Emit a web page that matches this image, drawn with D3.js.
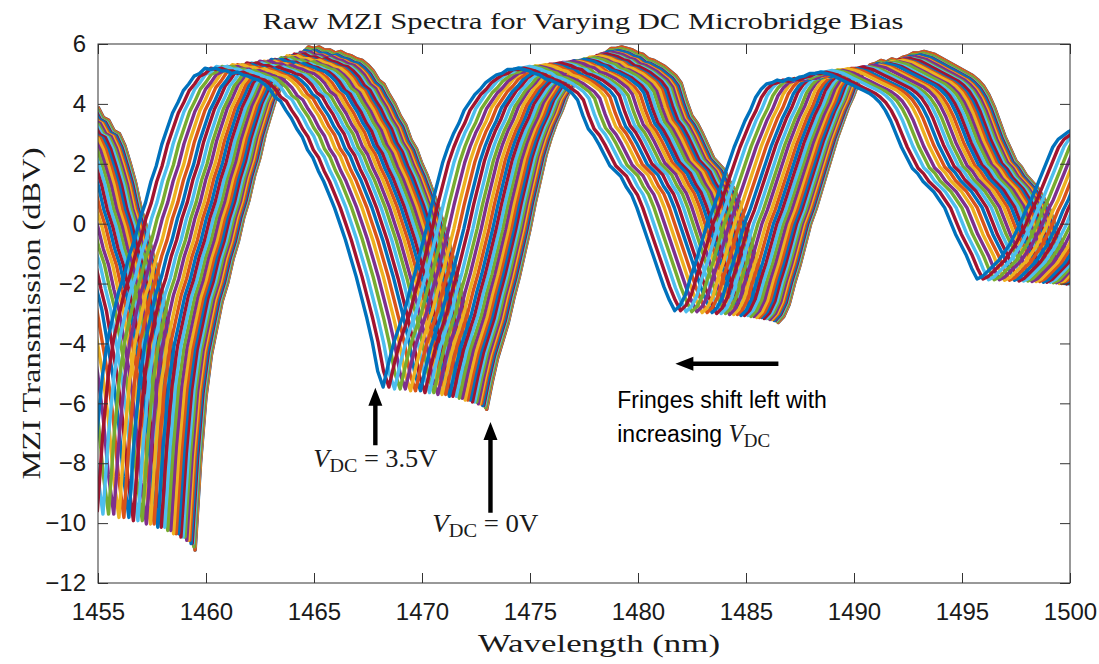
<!DOCTYPE html>
<html>
<head>
<meta charset="utf-8">
<script src="https://cdn.jsdelivr.net/npm/d3@7"></script>
<style>
  body { margin: 0; background: #fff; }
  .tick text { font-family: 'Liberation Sans', Arial, sans-serif; font-size: 24px; fill: #1a1a1a; }
  .tick line { stroke: #333; }
  .serif { font-family: 'Liberation Serif', 'Times New Roman', serif; fill: #1a1a1a; }
  .note { font-family: 'Liberation Sans', Arial, sans-serif; font-size: 23px; fill: #000; }
</style>
</head>
<body>
<script>
// 0 V spectrum, one value every 0.25 nm from 1455 to 1505 (dBV)
const baseStart = 1455
const baseStep = 0.25
const baseDb = [
  3.9, 3.55, 3.45, 3.1, 3.0, 2.6, 2.0, 1.35, 0.5, -0.1,
  -0.9, -1.5, -2.4, -3.2, -4.4, -5.6, -7.2, -9.4, -10.9, -8.0,
  -5.8, -4.4, -3.5, -2.6, -2.0, -1.2, -0.6, 0.2, 0.8, 1.6,
  2.2, 3.0, 3.6, 4.2, 4.6, 5.05, 5.3, 5.6, 5.7, 5.9,
  5.85, 5.9, 5.8, 5.8, 5.7, 5.75, 5.65, 5.6, 5.5, 5.45,
  5.3, 5.1, 4.8, 4.65, 4.3, 4.0, 3.6, 3.3, 2.8, 2.5,
  2.0, 1.6, 1.1, 0.6, 0.0, -0.6, -1.3, -2.0, -2.8, -3.6,
  -4.5, -5.6, -6.2, -5.3, -4.5, -3.9, -3.3, -2.5, -1.8, -1.0,
  -0.2, 0.7, 1.5, 2.3, 2.9, 3.4, 3.8, 4.3, 4.6, 4.9,
  5.1, 5.35, 5.5, 5.65, 5.7, 5.85, 5.85, 5.9, 5.85, 5.8,
  5.7, 5.65, 5.5, 5.45, 5.35, 5.25, 5.1, 4.95, 4.7, 4.1,
  3.6, 3.35, 3.0, 2.6, 2.2, 2.0, 1.8, 1.4, 1.1, 0.6,
  0.0, -0.6, -1.2, -1.8, -2.4, -2.9, -3.3, -3.1, -2.7, -2.0,
  -1.4, -0.7, 0.0, 0.5, 1.1, 1.7, 2.3, 2.9, 3.4, 3.9,
  4.3, 4.8, 5.1, 5.3, 5.35, 5.45, 5.4, 5.5, 5.45, 5.55,
  5.6, 5.7, 5.7, 5.75, 5.7, 5.65, 5.55, 5.45, 5.35, 5.25,
  5.15, 5.05, 4.95, 4.8, 4.6, 4.3, 3.9, 3.4, 2.9, 2.5,
  2.1, 1.9, 1.6, 1.4, 1.2, 0.9, 0.6, 0.1, -0.4, -0.8,
  -1.2, -1.7, -2.1, -2.0, -1.8, -1.6, -1.4, -1.1, -0.8, -0.4,
  0.0, 0.5, 0.9, 1.4, 1.9, 2.4, 2.9, 3.2, 3.35, 3.5,
  3.6]

// DC bias of each trace and the fringe shift (nm) / level factor read for it
const voltages = [0.0, 0.1, 0.2, 0.3, 0.4, 0.5, 0.6, 0.7, 0.8, 0.9, 1.0, 1.1,
  1.2, 1.3, 1.4, 1.5, 1.6, 1.7, 1.8, 1.9, 2.0, 2.1, 2.2, 2.3,
  2.4, 2.5, 2.6, 2.7, 2.8, 2.9, 3.0, 3.1, 3.2, 3.3, 3.4, 3.5]
const shifts = [0, 0.01, 0.02, 0.04, 0.06, 0.10, 0.14, 0.19, 0.25, 0.32, 0.39, 0.47,
  0.56, 0.66, 0.77, 0.88, 1.00, 1.13, 1.27, 1.41, 1.57, 1.73, 1.90, 2.07,
  2.26, 2.45, 2.65, 2.86, 3.07, 3.30, 3.53, 3.77, 4.01, 4.27, 4.53, 4.80]
const levels = [1.00, 1.00, 0.99, 0.99, 0.99, 0.98, 0.98, 0.98, 0.97, 0.97, 0.97, 0.96,
  0.96, 0.96, 0.95, 0.95, 0.95, 0.94, 0.94, 0.93, 0.93, 0.93, 0.92, 0.92,
  0.92, 0.91, 0.91, 0.91, 0.90, 0.90, 0.90, 0.89, 0.89, 0.89, 0.88, 0.88]

const xTicks = [1455, 1460, 1465, 1470, 1475, 1480, 1485, 1490, 1495, 1500]
const yTicks = [-12, -10, -8, -6, -4, -2, 0, 2, 4, 6]

const colors = ['#0072BD', '#D95319', '#EDB120', '#7E2F8E', '#77AC30', '#4DBEEE', '#A2142F']

let width = 1099
let height = 664
const plotL = 98, plotR = 1070, plotT = 44, plotB = 583

const x = d3.scaleLinear().domain([1455, 1500]).range([plotL, plotR])
const y = d3.scaleLinear().domain([-12, 6]).range([plotB, plotT])

let svg = d3.select('body')
  .append('svg')
  .attr('width', width)
  .attr('height', height)

svg.append('clipPath')
  .attr('id', 'plot')
  .append('rect')
  .attr('x', plotL)
  .attr('y', plotT)
  .attr('width', plotR - plotL)
  .attr('height', plotB - plotT)

// every trace is the 0 V spectrum moved left by its shift
const traces = voltages.map((v, i) => baseDb.map((db, k) => ({
  wl: baseStart + k * baseStep - shifts[i],
  db: db * levels[i]
})))

const line = d3.line()
  .x(d => x(d.wl))
  .y(d => y(d.db))

svg.append('g')
  .attr('clip-path', 'url(#plot)')
  .selectAll('path')
  .data(traces)
  .enter()
  .append('path')
  .attr('d', line)
  .attr('fill', 'none')
  .attr('stroke', (d, i) => colors[i % colors.length])
  .attr('stroke-width', 3.4)
  .attr('stroke-linejoin', 'round')

// axes, ticks pointing inwards on all four sides
svg.append('g')
  .attr('transform', `translate(0,${plotB})`)
  .call(d3.axisBottom(x).tickValues(xTicks).tickSize(-10).tickPadding(20).tickFormat(d3.format('d')))
svg.append('g')
  .attr('transform', `translate(0,${plotT})`)
  .call(d3.axisTop(x).tickValues(xTicks).tickSize(-10).tickFormat(''))
svg.append('g')
  .attr('transform', `translate(${plotL},0)`)
  .call(d3.axisLeft(y).tickValues(yTicks).tickSize(-10).tickPadding(12).tickFormat(d3.format('d')))
svg.append('g')
  .attr('transform', `translate(${plotR},0)`)
  .call(d3.axisRight(y).tickValues(yTicks).tickSize(-10).tickFormat(''))

svg.selectAll('.domain').remove()
svg.append('rect')
  .attr('x', plotL)
  .attr('y', plotT)
  .attr('width', plotR - plotL)
  .attr('height', plotB - plotT)
  .attr('fill', 'none')
  .attr('stroke', '#333')

// titles
svg.append('text')
  .attr('class', 'serif')
  .attr('x', 583)
  .attr('y', 29)
  .attr('text-anchor', 'middle')
  .attr('font-size', 24)
  .attr('textLength', 641)
  .attr('lengthAdjust', 'spacingAndGlyphs')
  .text('Raw MZI Spectra for Varying DC Microbridge Bias')

svg.append('text')
  .attr('class', 'serif')
  .attr('x', 599)
  .attr('y', 652)
  .attr('text-anchor', 'middle')
  .attr('font-size', 25)
  .attr('textLength', 242)
  .attr('lengthAdjust', 'spacingAndGlyphs')
  .text('Wavelength (nm)')

svg.append('text')
  .attr('class', 'serif')
  .attr('transform', `translate(40,${(plotT + plotB) / 2}) rotate(-90)`)
  .attr('text-anchor', 'middle')
  .attr('font-size', 25)
  .attr('textLength', 332)
  .attr('lengthAdjust', 'spacingAndGlyphs')
  .text('MZI Transmission (dBV)')

// annotations
const arrow = (x0, y0, x1, y1) => {
  const dx = x1 - x0, dy = y1 - y0
  const len = Math.hypot(dx, dy)
  const ux = dx / len, uy = dy / len
  const head = 18, half = 7, shaft = 2.2
  const bx = x1 - ux * head, by = y1 - uy * head
  return `M${x0 - uy * shaft},${y0 + ux * shaft}L${bx - uy * shaft},${by + ux * shaft}` +
    `L${bx - uy * half},${by + ux * half}L${x1},${y1}L${bx + uy * half},${by - ux * half}` +
    `L${bx + uy * shaft},${by - ux * shaft}L${x0 + uy * shaft},${y0 - ux * shaft}Z`
}

const arrows = [
  [1467.84, -7.4, 1467.84, -5.48],
  [1473.17, -9.65, 1473.17, -6.62],
  [1486.5, -4.68, 1481.73, -4.68]
]
svg.append('g')
  .selectAll('path')
  .data(arrows)
  .enter()
  .append('path')
  .attr('d', d => arrow(x(d[0]), y(d[1]), x(d[2]), y(d[3])))
  .attr('fill', '#000')

const vdc = (wl, db, rest, len) => {
  const t = svg.append('text')
    .attr('class', 'serif')
    .attr('x', x(wl))
    .attr('y', y(db))
    .attr('font-size', 25)
    .attr('textLength', len)
    .attr('lengthAdjust', 'spacingAndGlyphs')
  t.append('tspan').attr('font-style', 'italic').text('V')
  t.append('tspan').attr('font-size', 19).attr('dy', 5).text('DC')
  t.append('tspan').attr('dy', -5).text(rest)
}
vdc(1464.97, -8.12, ' = 3.5V', 124)
vdc(1470.48, -10.29, ' = 0V', 106)

svg.append('text')
  .attr('class', 'note')
  .attr('x', x(1479.04))
  .attr('y', y(-6.15))
  .text('Fringes shift left with')

const inc = svg.append('text')
  .attr('class', 'note')
  .attr('x', x(1479.04))
  .attr('y', y(-7.28))
inc.append('tspan').text('increasing ')
inc.append('tspan').attr('class', 'serif').attr('font-size', 25).attr('font-style', 'italic').text('V')
inc.append('tspan').attr('class', 'serif').attr('font-size', 19).attr('dy', 5).text('DC')
</script>
</body>
</html>
